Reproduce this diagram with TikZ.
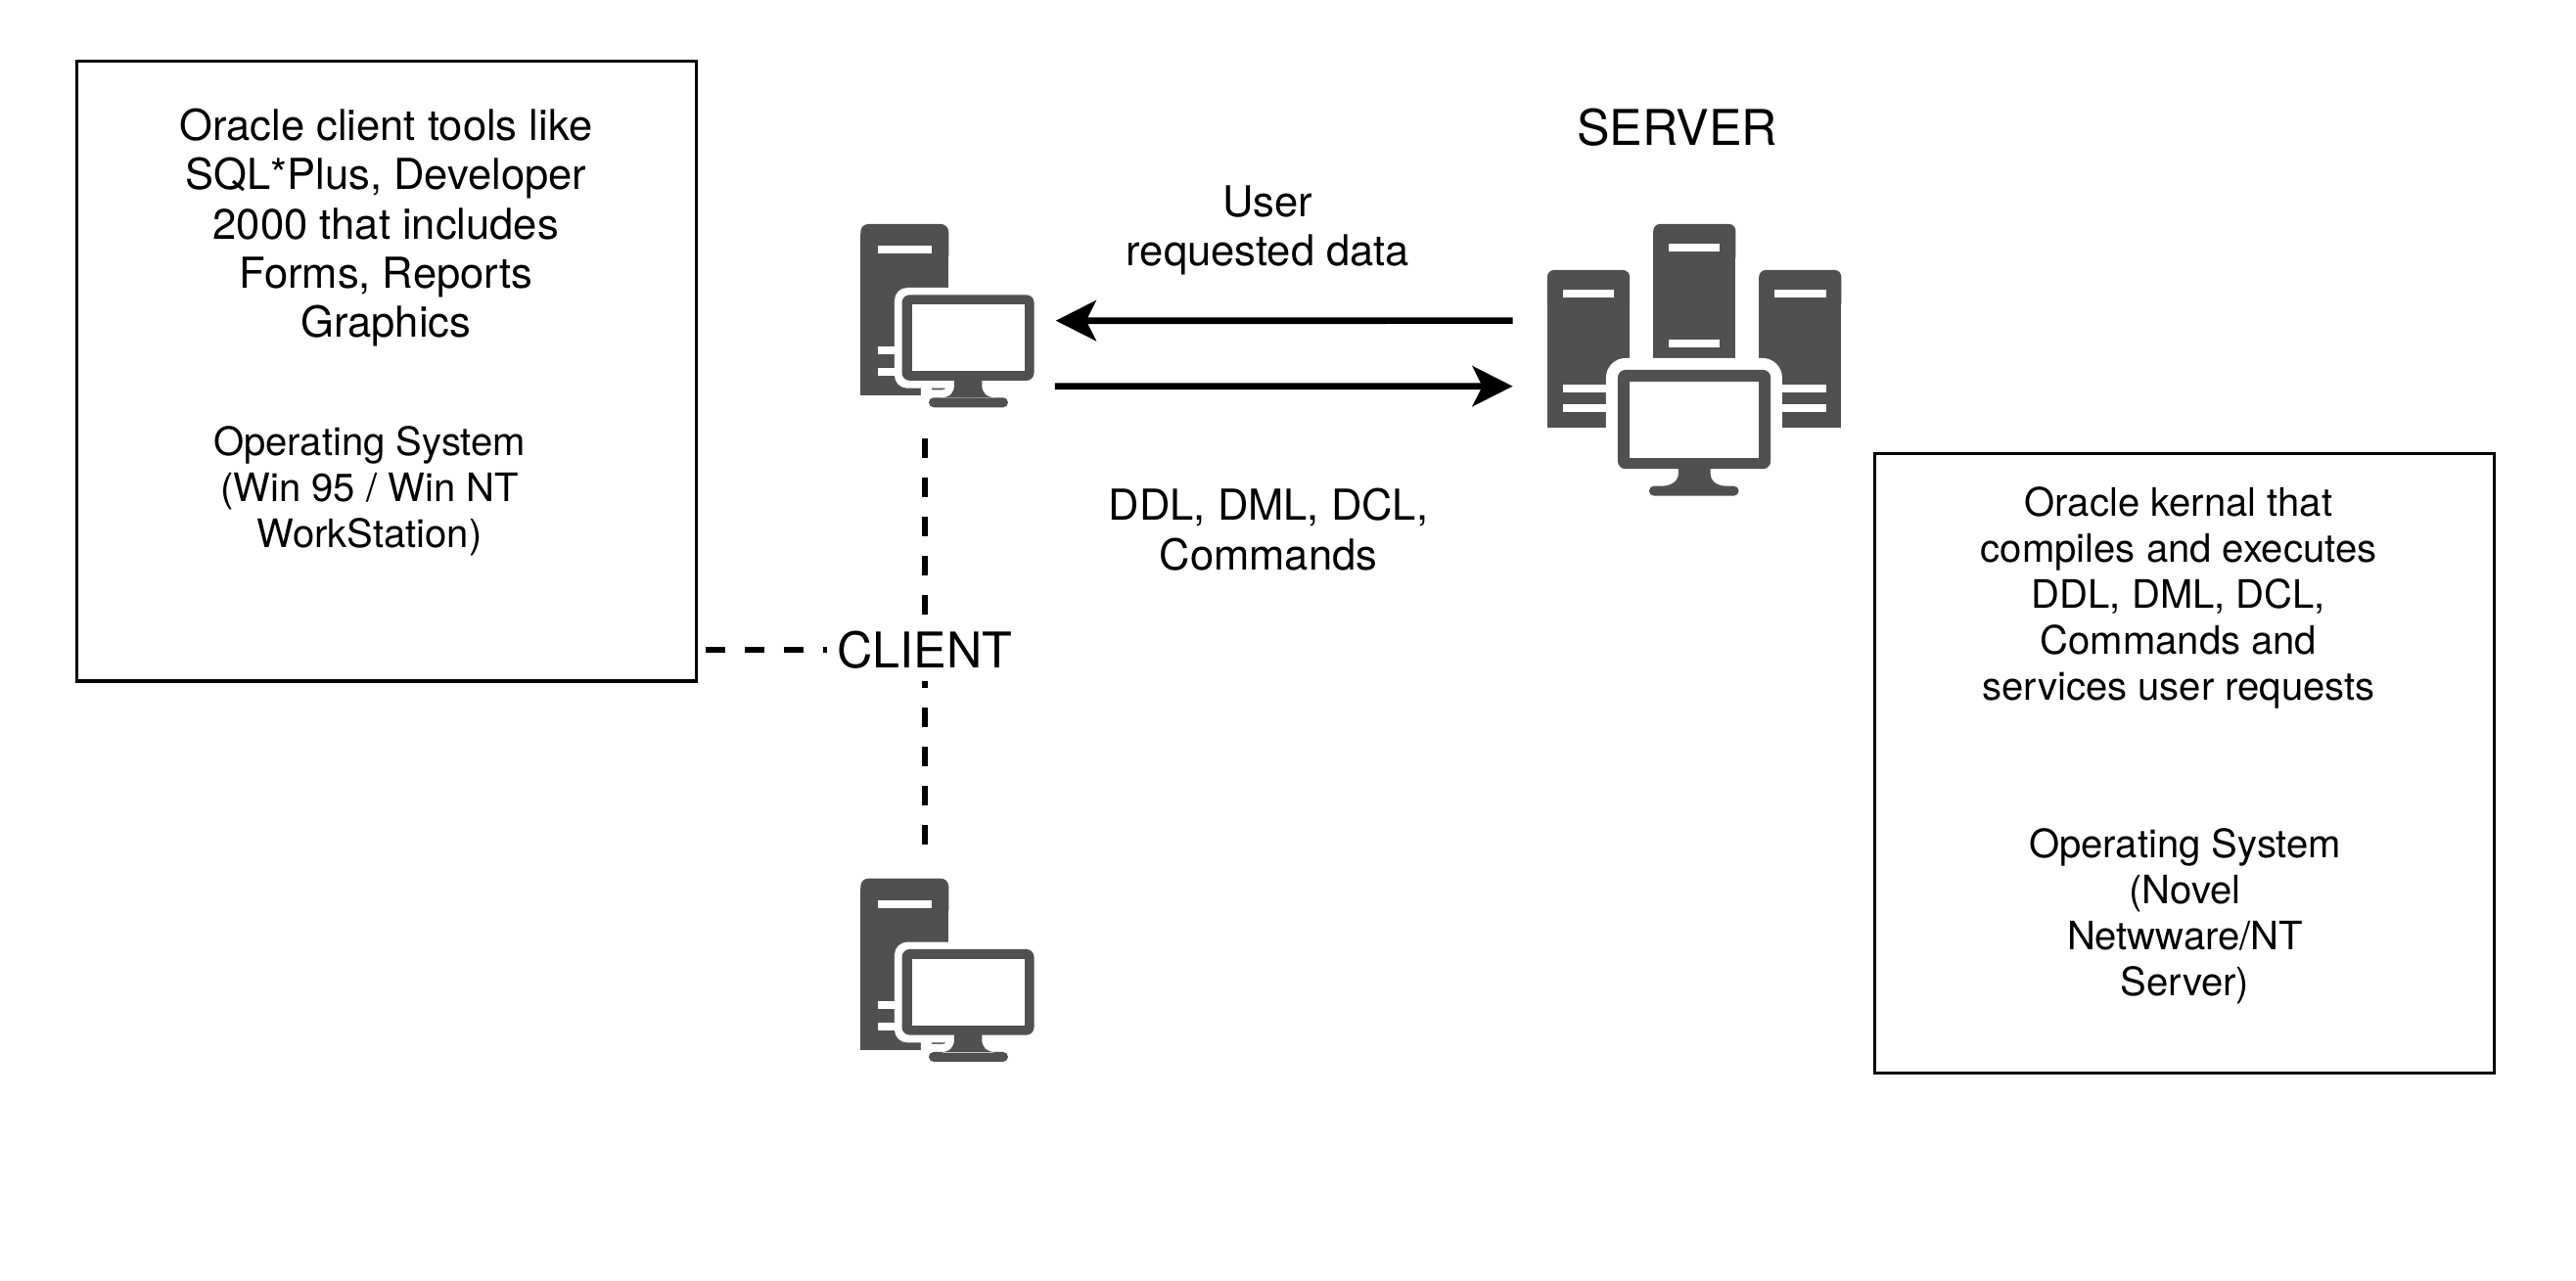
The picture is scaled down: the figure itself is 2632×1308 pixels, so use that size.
\documentclass[tikz,border=0pt]{standalone}
\usepackage{fontspec}
\setmainfont{TeX Gyre Heros}
\usetikzlibrary{arrows.meta,positioning}

\definecolor{icongray}{HTML}{505050}

\tikzset{
    pics/clientpc/.style={code={
        % tower
        \fill[icongray, rounded corners=0.08cm] (0,0) rectangle (90,40);
        \fill[icongray] (0,10) rectangle (90,175);
        \fill[white] (17.3,22.3) rectangle (72.3,30);
        \fill[white] (17.3,125) rectangle (40,133);
        \fill[white] (17.3,147.3) rectangle (40,155);
        \fill[white, rounded corners=0.13cm] (34.7,65) rectangle (177,167.7);
        % stand
        \fill[icongray, preaction={draw=white, fill=white, line width=0.16cm}]
            [rounded corners=0.05cm] (69.7,177.3) rectangle (150.7,187.3)
            [sharp corners] (95.7,155) -- (124,155) -- (124,164) .. controls (124,173) and (128,177) .. (140,178)
            -- (80,178) .. controls (92,177) and (95.7,173) .. (95.7,164) -- cycle;
        % monitor
        \fill[icongray, rounded corners=0.08cm] (42.3,72.3) rectangle (177.3,160);
        \fill[white] (52.3,82.3) rectangle (167.3,150);
    }},
    pics/serverpc/.style={code={
        % towers
        \foreach \tx/\ty/\tb in {0/47/207.7, 108.3/0/137, 216.3/47/207.7} {
            \fill[icongray, rounded corners=0.07cm] (\tx,\ty) rectangle (\tx+84.2,\ty+40);
            \fill[icongray] (\tx,\ty+10) rectangle (\tx+84.2,\tb);
        }
        % slots
        \fill[white] (15.7,67) rectangle (68,75);
        \fill[white] (15.7,164.3) rectangle (68,172.3);
        \fill[white] (15.7,184.3) rectangle (68,192.3);
        \fill[white] (124,20) rectangle (176.3,28);
        \fill[white] (124,117.7) rectangle (176.3,125.7);
        \fill[white] (232,67) rectangle (284.7,75);
        \fill[white] (232,164.3) rectangle (284.7,172.3);
        \fill[white] (232,184.3) rectangle (284.7,192.3);
        \fill[white, rounded corners=0.2cm] (60,137) rectangle (240,240);
        % monitor
        \fill[icongray, rounded corners=0.08cm] (72,149) rectangle (228.3,250.3);
        \fill[white] (84,160.7) rectangle (216.3,238.7);
        \fill[icongray, rounded corners=0.05cm] (104,267.7) rectangle (195.7,277.7);
        \fill[icongray] (134,245) -- (166.7,245) -- (166.7,254) .. controls (166.7,263) and (172,267) .. (185,268.5)
            -- (115,268.5) .. controls (128,267) and (134,263) .. (134,254) -- cycle;
    }}
}

\begin{document}
\begin{tikzpicture}[
    x=0.01cm, y=-0.01cm,
    pcbox/.style={minimum width=1.774cm, minimum height=1.873cm, inner sep=0pt, outer sep=0pt},
    serverbox/.style={minimum width=3.007cm, minimum height=2.777cm, inner sep=0pt, outer sep=0pt},
    infobox/.style={rectangle, draw, line width=0.033cm, minimum width=6.33cm, minimum height=6.33cm, outer sep=0pt},
    maintext/.style={align=center, inner sep=0pt, font=\fontsize{12.38}{14.3}\selectfont},
    smalltext/.style={align=center, inner sep=0pt, font=\fontsize{11.38}{13.37}\selectfont},
    bigtext/.style={inner sep=0pt, font=\fontsize{14.3}{17}\selectfont},
    arrow/.style={-{Stealth[length=0.41cm, width=0.41cm, inset=0.1cm]}, line width=0.067cm},
    dashline/.style={line width=0.067cm, dash pattern=on 0.2cm off 0.2cm},
]
    \useasboundingbox (0,0) rectangle (2632,1308);

    % Boxes
    \node[infobox] (clientbox) at (395,379.4) {};
    \node[infobox] (serverinfo) at (2232,779.9) {};

    % Icons
    \node[pcbox] (clientone) at (968,322.65) {};
    \node[pcbox, below=4.81cm of clientone] (clienttwo) {};
    \node[serverbox] (serverpc) at (1731.35,367.85) {};
    \pic at (clientone.north west) {clientpc};
    \pic at (clienttwo.north west) {clientpc};
    \pic at (serverpc.north west) {serverpc};

    % Labels
    \node[bigtext] (serverlabel) at (1713.5,130) {SERVER};
    \node[bigtext, fill=white, minimum width=1.98cm, minimum height=0.62cm] (client) at (945,664) {CLIENT};
    \node[maintext] (usertext) at (1295.5,235.5) {User\\requested data};
    \node[maintext] (cmdtext) at (1296,541) {DDL, DML, DCL,\\Commands};

    % Text in the left box
    \node[maintext] (toolstext) at (394.3,232.5) {Oracle client tools like\\SQL*Plus, Developer\\2000 that includes\\Forms, Reports\\Graphics};
    \node[smalltext] (clientos) at (377.5,502) {Operating System\\(Win 95 / Win NT\\WorkStation)};

    % Text in the right box
    \node[smalltext] (kerneltext) at (2226,611) {Oracle kernal that\\compiles and executes\\DDL, DML, DCL,\\Commands and\\services user requests};
    \node[smalltext] (serveros) at (2232.5,936) {Operating System\\(Novel\\Netwware/NT\\Server)};

    % Arrows between client and server
    \draw[arrow] ([xshift=-0.353cm, yshift=0.402cm]serverpc.west) -- ([xshift=0.22cm, yshift=-0.05cm]clientone.east);
    \draw[arrow] ([xshift=0.21cm, yshift=-0.72cm]clientone.east) -- ([xshift=-0.353cm, yshift=-0.268cm]serverpc.west);

    % Dashed links to the label
    \draw[dashline] ([yshift=-0.32cm]clientone.south -| client.north) -- (client.north);
    \draw[dashline] ([yshift=0.346cm]clienttwo.north -| client.south) -- (client.south);
    \draw[dashline] ([xshift=0.09cm]clientbox.east |- client.west) -- (client.west);
\end{tikzpicture}
\end{document}
